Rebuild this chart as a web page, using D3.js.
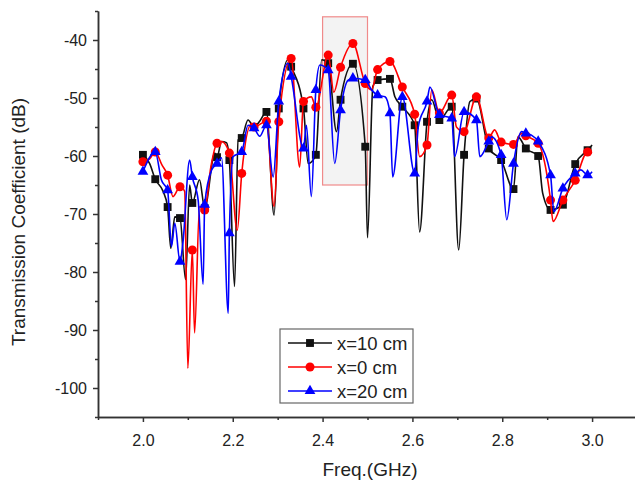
<!DOCTYPE html>
<html lang="en">

<head>
  <meta charset="UTF-8">
  <title>Transmission coefficient vs frequency</title>
  <style>
    * {
      margin: 0;
    }

    body {
      background: #fff;
      font-family: "Liberation Sans", Arial, Helvetica, sans-serif;
    }

    .axis path,
    .axis line {
      stroke: #333;
      stroke-width: 1.5px;
    }

    .axis text {
      font-size: 16px;
      fill: #222;
      font-family: "Liberation Sans", Arial, sans-serif;
    }
  </style>
</head>

<body>
  <div id="chart"></div>
  <script src="https://cdnjs.cloudflare.com/ajax/libs/d3/7.8.5/d3.min.js"></script>
  <script type="text/javascript">
    // frequencies (GHz) where the symbols sit, shared by all three curves
    const markFreq = [2.0000, 2.0275, 2.0550, 2.0825, 2.1100, 2.1375, 2.1650, 2.1925, 2.2200, 2.2475,
      2.2750, 2.3025, 2.3300, 2.3575, 2.3850, 2.4125, 2.4400, 2.4675, 2.4950, 2.5225,
      2.5500, 2.5775, 2.6050, 2.6325, 2.6600, 2.6875, 2.7150, 2.7425, 2.7700, 2.7975,
      2.8250, 2.8525, 2.8800, 2.9075, 2.9350, 2.9625, 2.9900];

    // x=10 cm (black squares)
    const x10Marks = [-59.8, -64.0, -68.8, -70.7, -68.1, -69.0, -60.2, -60.7, -56.9, -55.0,
      -52.4, -51.8, -44.6, -51.8, -59.8, -44.0, -50.3, -44.1, -58.4, -46.9,
      -46.7, -51.5, -54.7, -54.1, -53.8, -51.5, -59.8, -50.1, -58.7, -60.7,
      -65.7, -58.7, -60.0, -69.3, -68.4, -61.4, -59.0];
    const x10Freq = [2.015, 2.045, 2.062, 2.071, 2.095, 2.104, 2.126, 2.160, 2.175, 2.186,
      2.204, 2.212, 2.234, 2.260, 2.292, 2.323, 2.368, 2.398, 2.431, 2.500,
      2.512, 2.561, 2.616, 2.643, 2.703, 2.728, 2.835, 2.890, 3.000];
    const x10Vals = [-61.3, -66.1, -75.9, -70.5, -81.3, -65.0, -64.1, -59.5, -57.5, -57.7,
      -82.5, -57.2, -53.8, -54.0, -70.2, -43.4, -61.3, -43.4, -55.8, -74.1,
      -48.0, -49.8, -73.1, -50.3, -76.2, -50.6, -56.7, -66.4, -58.1];

    // x=0 cm (red circles)
    const x0Marks = [-61.0, -59.3, -63.3, -65.3, -76.2, -69.3, -57.8, -59.5, -63.0, -55.0,
      -54.0, -54.1, -43.2, -50.6, -51.6, -42.6, -44.7, -40.6, -47.5, -45.1,
      -43.7, -48.1, -52.8, -58.1, -52.6, -49.5, -55.8, -49.8, -56.9, -57.6,
      -58.0, -56.5, -57.8, -67.6, -67.6, -64.2, -59.3];
    const x0Freq = [2.015, 2.042, 2.067, 2.093, 2.100, 2.115, 2.126, 2.151, 2.175, 2.210,
      2.242, 2.292, 2.349, 2.375, 2.425, 2.509, 2.616, 2.643, 2.698, 2.783,
      2.843, 2.913, 3.000];
    const x0Vals = [-60.5, -61.5, -67.0, -66.1, -96.6, -90.5, -68.7, -62.0, -57.5, -72.8,
      -54.4, -68.7, -61.9, -49.8, -49.0, -48.6, -60.1, -48.6, -55.0, -55.5,
      -56.1, -71.3, -59.5];

    // x=20 cm (blue triangles)
    const x20Marks = [-62.7, -59.3, -65.9, -78.2, -63.6, -68.4, -61.3, -73.3, -59.3, -55.2,
      -54.7, -50.6, -46.3, -58.7, -48.6, -45.2, -52.1, -46.6, -46.9, -49.5,
      -52.6, -49.8, -63.0, -50.6, -52.9, -53.5, -52.4, -53.8, -57.5, -59.8,
      -61.3, -56.1, -57.5, -63.3, -65.6, -63.0, -63.3];
    const x20Freq = [2.041, 2.0635, 2.071, 2.089, 2.104, 2.123, 2.134, 2.153, 2.175, 2.190,
      2.201, 2.234, 2.260, 2.290, 2.323, 2.364, 2.375, 2.394, 2.427, 2.457,
      2.509, 2.539, 2.556, 2.613, 2.639, 2.694, 2.750, 2.776, 2.810, 2.843,
      2.865, 2.915, 2.975, 3.000];
    const x20Vals = [-64.1, -75.6, -71.6, -75.0, -60.7, -67.6, -82.1, -62.4, -60.3, -87.1,
      -60.1, -54.7, -56.6, -63.6, -44.0, -54.7, -67.0, -44.3, -61.3, -46.9,
      -48.6, -49.8, -63.6, -55.0, -48.1, -60.1, -60.1, -56.7, -71.0, -55.8,
      -56.4, -69.6, -62.4, -62.7];

    const xTicks = [2.0, 2.2, 2.4, 2.6, 2.8, 3.0];
    const xMinor = [1.9, 2.1, 2.3, 2.5, 2.7, 2.9, 3.1];
    const yTicks = [-100, -90, -80, -70, -60, -50, -40];
    const yMinor = [-105, -95, -85, -75, -65, -55, -45, -35];

    // highlighted band
    const bandFreq = [2.4, 2.5];
    const bandDb = [-65, -36];

    const width = 635;
    const height = 482;

    const svg = d3.select('#chart')
      .append('svg')
      .attr('width', width)
      .attr('height', height);

    const x = d3.scaleLinear().domain([1.9, 3.1]).range([98, 637]);
    const y = d3.scaleLinear().domain([-105, -35]).range([417, 11]);

    // band
    svg.append('rect')
      .attr('x', x(bandFreq[0]))
      .attr('y', y(bandDb[1]))
      .attr('width', x(bandFreq[1]) - x(bandFreq[0]))
      .attr('height', y(bandDb[0]) - y(bandDb[1]))
      .attr('fill', '#f3f3f3')
      .attr('stroke', '#f08a8a')
      .attr('stroke-width', 1.2);

    const series = [
      { name: 'x=10 cm', color: '#111', symbol: d3.symbolSquare, size: 62, marks: x10Marks, freq: x10Freq, vals: x10Vals },
      { name: 'x=0 cm', color: '#ff0000', symbol: d3.symbolCircle, size: 64, marks: x0Marks, freq: x0Freq, vals: x0Vals },
      { name: 'x=20 cm', color: '#0000ff', symbol: d3.symbolTriangle, size: 50, marks: x20Marks, freq: x20Freq, vals: x20Vals }
    ];

    const line = d3.line()
      .x(d => x(d[0]))
      .y(d => y(d[1]))
      .curve(d3.curveMonotoneX);

    series.forEach(s => {
      const markPts = markFreq.map((f, i) => [f, s.marks[i]]);
      const extra = s.freq.map((f, i) => [f, s.vals[i]]);
      const pts = markPts.concat(extra).sort((a, b) => a[0] - b[0]);

      svg.append('path')
        .datum(pts)
        .attr('fill', 'none')
        .attr('stroke', s.color)
        .attr('stroke-width', 1.6)
        .attr('stroke-linejoin', 'round')
        .attr('d', line);

      svg.append('g')
        .selectAll('path')
        .data(markPts)
        .enter().append('path')
        .attr('transform', d => `translate(${x(d[0])},${y(d[1])})`)
        .attr('d', d3.symbol().type(s.symbol).size(s.size))
        .attr('fill', s.color);
    });

    // axes
    svg.append('g')
      .attr('class', 'axis')
      .attr('transform', 'translate(0,417)')
      .call(d3.axisBottom(x).tickValues(xTicks).tickSize(5).tickSizeOuter(0)
        .tickPadding(13).tickFormat(d3.format('.1f')));
    svg.append('g')
      .attr('class', 'axis')
      .attr('transform', 'translate(0,417)')
      .call(d3.axisBottom(x).tickValues(xMinor).tickSize(3).tickSizeOuter(0).tickFormat(''));

    svg.append('g')
      .attr('class', 'axis')
      .attr('transform', 'translate(98,0)')
      .call(d3.axisLeft(y).tickValues(yTicks).tickSize(5).tickSizeOuter(0)
        .tickPadding(6).tickFormat(d => String(d)));
    svg.append('g')
      .attr('class', 'axis')
      .attr('transform', 'translate(98,0)')
      .call(d3.axisLeft(y).tickValues(yMinor).tickSize(3).tickSizeOuter(0).tickFormat(''));

    // titles
    svg.append('text')
      .attr('x', 370)
      .attr('y', 476)
      .attr('text-anchor', 'middle')
      .style('font-size', '19px')
      .style('fill', '#222')
      .text('Freq.(GHz)');

    svg.append('text')
      .attr('transform', 'translate(25,222) rotate(-90)')
      .attr('text-anchor', 'middle')
      .style('font-size', '19px')
      .style('fill', '#222')
      .text('Transmission Coefficient (dB)');

    // legend
    const legend = svg.append('g').attr('transform', 'translate(280,329)');
    legend.append('rect')
      .attr('width', 133)
      .attr('height', 74)
      .attr('fill', '#fff')
      .attr('stroke', '#666')
      .attr('stroke-width', 1.2);

    const item = legend.selectAll('g.item')
      .data(series)
      .enter().append('g')
      .attr('class', 'item')
      .attr('transform', (d, i) => `translate(0,${14 + i * 24})`);
    item.append('line')
      .attr('x1', 8).attr('x2', 52)
      .attr('stroke', d => d.color)
      .attr('stroke-width', 1.6);
    item.append('path')
      .attr('transform', 'translate(30,0)')
      .attr('d', d => d3.symbol().type(d.symbol).size(d.size)())
      .attr('fill', d => d.color);
    item.append('text')
      .attr('x', 57)
      .attr('dy', '0.36em')
      .style('font-size', '18.5px')
      .style('fill', '#222')
      .text(d => d.name);
  </script>
</body>

</html>
